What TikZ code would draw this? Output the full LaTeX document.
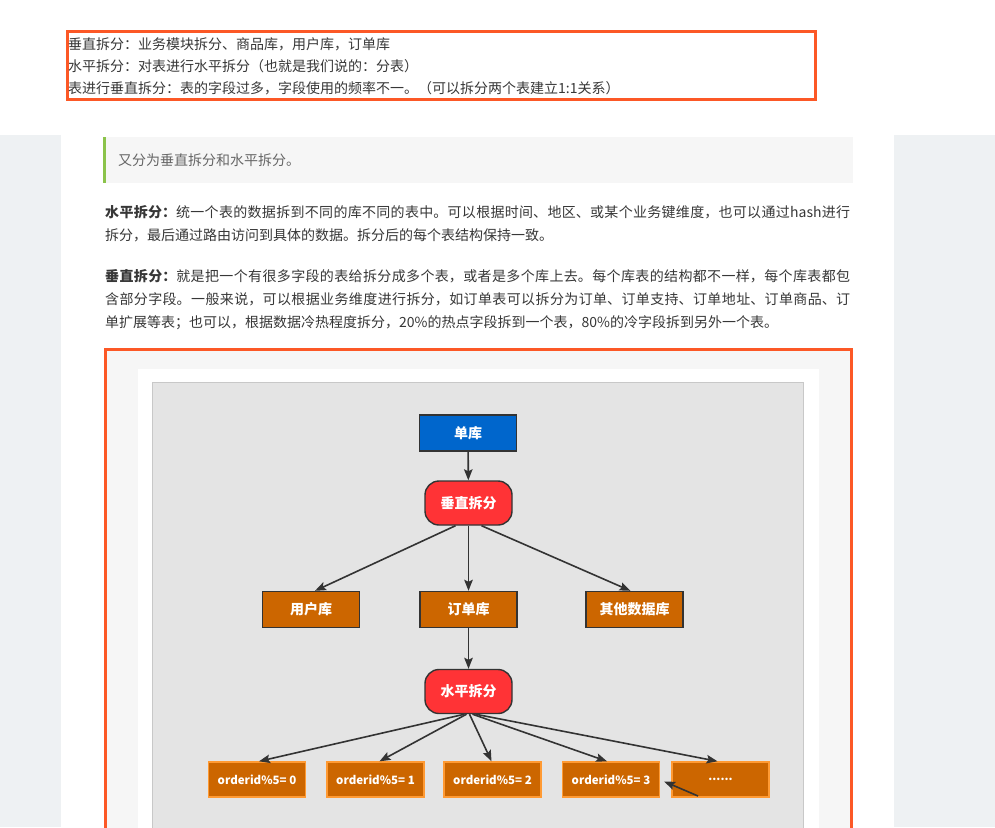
\documentclass[tikz,border=0pt]{standalone}
\usepackage{fontspec}
\setmainfont{Noto Sans CJK SC}
\usetikzlibrary{arrows.meta}
\XeTeXlinebreaklocale "zh"
\XeTeXlinebreakskip=0pt plus 1.5pt
\definecolor{frameorange}{RGB}{252,88,38}
\definecolor{sidegray}{RGB}{238,241,243}
\definecolor{quotebg}{RGB}{246,246,246}
\definecolor{quotebar}{RGB}{139,195,74}
\definecolor{bodytext}{RGB}{55,55,55}
\definecolor{quotetext}{RGB}{102,102,102}
\definecolor{bandgray}{RGB}{246,246,246}
\definecolor{panelgray}{RGB}{228,228,228}
\definecolor{panelborder}{RGB}{200,200,200}
\definecolor{dbblue}{RGB}{0,102,204}
\definecolor{splitred}{RGB}{255,51,54}
\definecolor{dbbrown}{RGB}{204,102,0}
\definecolor{ordborder}{RGB}{255,154,51}
\definecolor{edgegray}{RGB}{51,51,51}
\tikzset{
  toptext/.style={anchor=base west, inner sep=0pt, text=bodytext, font=\fontsize{14}{14}\selectfont},
  para/.style={anchor=base west, inner sep=0pt, text=bodytext, text width=745pt, align=justify, font=\fontsize{14}{23}\selectfont},
  box/.style={draw=edgegray, line width=1.4pt, text=white, font=\bfseries\fontsize{14}{14}\selectfont, minimum width=97pt, minimum height=36pt, inner sep=0pt},
  bluebox/.style={box, fill=dbblue},
  redbox/.style={box, fill=splitred, rounded corners=14pt, minimum width=87pt, minimum height=44pt},
  brownbox/.style={box, fill=dbbrown},
  ordbox/.style={box, fill=dbbrown, draw=ordborder, font=\bfseries\fontsize{11.5}{11.5}\selectfont, minimum height=35pt},
  arr/.style={draw=edgegray, line width=1.6pt, -{Stealth[length=11pt,width=8.5pt,inset=2pt]}}
}
\begin{document}
\begin{tikzpicture}[x=1pt,y=-1pt]
\useasboundingbox (0,0) rectangle (995,827);
% page backgrounds
\fill[white] (0,0) rectangle (995,827);
\fill[sidegray] (0,135) rectangle (61,827);
\fill[sidegray] (894,135) rectangle (995,827);
% top note box
\draw[frameorange, line width=3pt] (67,31) rectangle (815,99);
\node[toptext] (t1) at (68,49) {垂直拆分：业务模块拆分、商品库，用户库，订单库};
\node[toptext] (t2) at (68,71) {水平拆分：对表进行水平拆分（也就是我们说的：分表）};
\node[toptext] (t3) at (68,93) {表进行垂直拆分：表的字段过多，字段使用的频率不一。（可以拆分两个表建立1:1关系）};
% quote
\fill[quotebg] (103,137) rectangle (853,183);
\fill[quotebar] (103,137) rectangle (106,183);
\node[toptext, text=quotetext] (q) at (118,165) {又分为垂直拆分和水平拆分。};
% paragraphs
\node[para] (p1) at (105,217) {{\bfseries 水平拆分：}统一个表的数据拆到不同的库不同的表中。可以根据时间、地区、或某个业务键维度，也可以通过hash进行\linebreak 拆分，最后通过路由访问到具体的数据。拆分后的每个表结构保持一致。};
\node[para] (p2) at (105,281) {{\bfseries 垂直拆分：}就是把一个有很多字段的表给拆分成多个表，或者是多个库上去。每个库表的结构都不一样，每个库表都包\linebreak 含部分字段。一般来说，可以根据业务维度进行拆分，如订单表可以拆分为订单、订单支持、订单地址、订单商品、订\linebreak 单扩展等表；也可以，根据数据冷热程度拆分，20\%的热点字段拆到一个表，80\%的冷字段拆到另外一个表。};
% diagram frame
\fill[bandgray] (105,349) rectangle (852,830);
\fill[white] (138,369) rectangle (819,830);
\draw[panelborder, fill=panelgray, line width=1pt] (152,382) rectangle (803,840);
\draw[frameorange, line width=3pt] (105.5,349) rectangle (851.5,840);
% nodes
\node[bluebox] (db) at (468,433) {单库};
\node[redbox] (vs) at (468.5,503) {垂直拆分};
\node[brownbox] (user) at (311,609.5) {用户库};
\node[brownbox] (order) at (468.5,609.5) {订单库};
\node[brownbox] (other) at (634.5,609.5) {其他数据库};
\node[redbox] (hs) at (468.5,691.5) {水平拆分};
\node[ordbox] (o0) at (257,779.5) {orderid\%5= 0};
\node[ordbox] (o1) at (375.5,779.5) {orderid\%5= 1};
\node[ordbox] (o2) at (492.5,779.5) {orderid\%5= 2};
\node[ordbox] (o3) at (611,779.5) {orderid\%5= 3};
\node[ordbox] (o4) at (720.5,779.5) {......};
% connectors
\draw[arr] (db) -- (vs);
\draw[arr] ([xshift=-13pt]vs.south) -- ([xshift=4pt]user.north);
\draw[arr] (vs.south) -- (order.north);
\draw[arr] ([xshift=13pt]vs.south) -- ([xshift=-4pt]other.north);
\draw[arr] (order) -- (hs);
\draw[arr] ([xshift=-4pt]hs.south) -- ([xshift=2pt]o0.north);
\draw[arr] ([xshift=-2pt]hs.south) -- ([xshift=4pt]o1.north);
\draw[arr] ([xshift=1pt]hs.south) -- ([xshift=-1pt]o2.north);
\draw[arr] ([xshift=4pt]hs.south) -- ([xshift=-4pt]o3.north);
\draw[arr] ([xshift=7pt]hs.south) -- ([xshift=-3pt]o4.north);
\coordinate (mark) at (698,796);
\draw[arr] (mark) -- ([xshift=4pt,yshift=-2pt]o3.east);
\end{tikzpicture}
\end{document}
